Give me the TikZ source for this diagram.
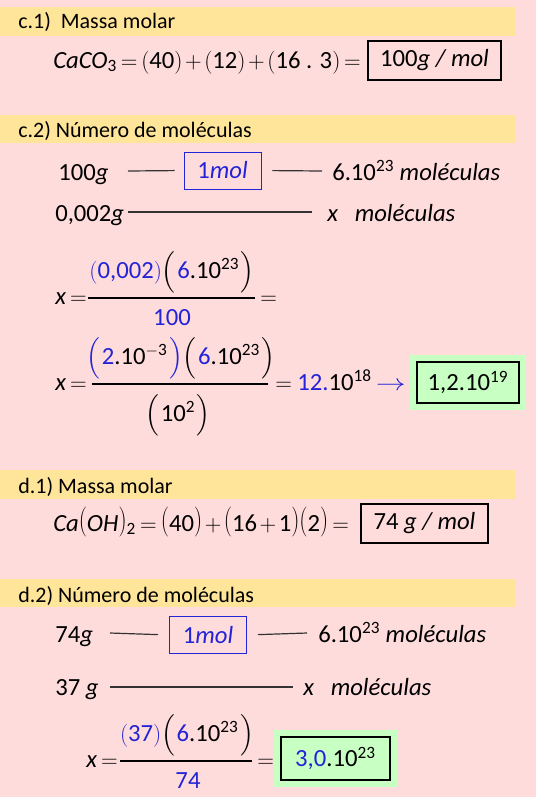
\documentclass[tikz,border=0pt]{standalone}
\usepackage{amsmath}
\usepackage{graphicx}
\usepackage{fontspec}
\setmainfont{Carlito}
\definecolor{fundo}{RGB}{255,220,220}
\definecolor{faixa}{RGB}{255,229,153}
\definecolor{azul}{RGB}{35,35,215}
\definecolor{verde}{RGB}{200,255,195}
% parenteses grandes (altura e profundidade)
\newcommand{\pa}[3][black]{\textcolor{#1}{$\left(\vrule height#2 depth#3 width0pt\right.$}}
\newcommand{\pf}[3][black]{\textcolor{#1}{$\left.\vrule height#2 depth#3 width0pt\right)$}}
% parenteses um pouco mais altos
\newcommand{\pp}[1]{\raisebox{1.5pt}{\scalebox{1}[1.3]{$#1$}}}

\begin{document}
\begin{tikzpicture}[x=0.75pt,y=-0.75pt,
  txt/.style={inner sep=0pt, anchor=base west, font=\fontsize{18.5}{22}\selectfont},
  titulo/.style={inner sep=0pt, anchor=base west, font=\fontsize{16.5}{20}\selectfont},
  caixa/.style={draw, line width=1.4pt, inner sep=0pt, font=\fontsize{18.5}{22}\selectfont},
  caixamol/.style={draw=azul, text=azul, line width=0.6pt, inner sep=0pt, minimum width=57.75pt, minimum height=27.75pt, font=\fontsize{18.5}{22}\selectfont},
  resposta/.style={draw, fill=verde, line width=0.9pt, inner sep=0pt, preaction={draw=verde, line width=10pt}, font=\fontsize{18.5}{22}\selectfont},
  traco/.style={line width=0.9pt, black!80},
  barra/.style={line width=0.9pt}]

% fundo e faixas dos titulos
\fill[fundo] (0,0) rectangle (536,797);
\useasboundingbox (0,0) rectangle (536,797);
\foreach \ya/\yb in {7/36,115/143,470/499,579/607}
  \fill[faixa] (0,\ya) rectangle (515,\yb);

% c.1) Massa molar
\node[titulo] (tc1) at (18,28) {c.1)\ \ Massa molar};
\node[txt] (mmc) at (53,68) {$\text{\textit{CaCO}}_{\text{3}}\,{=}\,(\text{40})\mskip2mu{+}\mskip2mu(\text{12})\mskip2mu{+}\mskip2mu(\text{16 . 3})\,{=}$};
\node[caixa, minimum width=99.75pt, minimum height=29.25pt] (rc1) at (434.5,60.5) {100\textit{g / mol}};

% c.2) Numero de moleculas
\node[titulo] (tc2) at (18,137) {c.2) Número de moléculas};
\node[txt] (g100) at (58,180) {100\textit{g}};
\node[caixamol] (mol1) at (222.5,170.5) {1\textit{mol}};
\coordinate (t1a) at (128,171);
\coordinate (t1b) at (322,171);
\draw[traco, shorten >=6.75pt] (t1a) -- (mol1.west);
\draw[traco, shorten <=8.25pt] (mol1.east) -- (t1b);
\node[txt] (mc1) at (332,180) {6.10\textsuperscript{23} \textit{moléculas}};

\node[txt] (g002) at (55,221) {0,002\textit{g}};
\coordinate (t2a) at (128,212);
\coordinate (t2b) at (312,212);
\draw[traco] (t2a) -- (t2b);
\node[txt] (xc1) at (327,221) {\textit{x}\ \ \ \textit{moléculas}};

% primeira fracao
\node[txt] (xa) at (55,304) {\textit{x}\,$=$};
\node[txt, anchor=base] (na) at (172,278) {\textcolor{azul}{$($0,002$)$}\pa{20pt}{11pt}\textcolor{azul}{6}.10\textsuperscript{23}\pf{20pt}{11pt}};
\draw[barra] (88,298) -- (255,298);
\node[txt, anchor=base] (da) at (172,325) {\textcolor{azul}{100}};
\node[txt] (ea) at (260,304) {$=$};

% segunda fracao
\node[txt] (xb) at (55,390) {\textit{x}\,$=$};
\node[txt, anchor=base] (nb) at (181,364) {\pa[azul]{20pt}{11pt}\textcolor{azul}{2}.10\textsuperscript{$-$3}\pf[azul]{20pt}{11pt}\pa{20pt}{11pt}\textcolor{azul}{6}.10\textsuperscript{23}\pf{20pt}{11pt}};
\draw[barra] (92,384) -- (268,384);
\node[txt, anchor=base] (db) at (178,421) {\pa{20pt}{11pt}10\textsuperscript{2}\pf{20pt}{11pt}};
\node[txt] (eb) at (275,390) {$=$\ \textcolor{azul}{12.}10\textsuperscript{18}\,\textcolor{azul}{\scalebox{1.3}[1]{$\rightarrow$}}};
\node[resposta, minimum width=76.5pt, minimum height=30.75pt] (rc2) at (468,382.5) {1,2.10\textsuperscript{19}};

% d.1) Massa molar
\node[titulo] (td1) at (18,493) {d.1) Massa molar};
\node[txt] (mmd) at (53,531) {\textit{Ca}\pp{(}\textit{OH}\pp{)}\textsubscript{2}\,$=$\,\pp{(}40\pp{)}$\mskip2mu+\mskip2mu$\pp{(}16$\mskip2mu+\mskip2mu$1\pp{)}\pp{(}2\pp{)}\,$=$};
\node[caixa, minimum width=95.25pt, minimum height=29.25pt] (rd1) at (424.5,523.5) {74 \textit{g / mol}};

% d.2) Numero de moleculas
\node[titulo] (td2) at (18,602) {d.2) Número de moléculas};
\node[txt] (g74) at (55,642) {74\textit{g}};
\node[caixamol] (mol2) at (208,635) {1\textit{mol}};
\coordinate (t3a) at (110,633);
\coordinate (t3b) at (307,633);
\draw[traco, shorten >=8.25pt] (t3a) -- (mol2.west);
\draw[traco, shorten <=8.25pt] (mol2.east) -- (t3b);
\node[txt] (md1) at (318,642) {6.10\textsuperscript{23} \textit{moléculas}};

\node[txt] (g37) at (55,695) {37 \textit{g}};
\coordinate (t4a) at (110,687);
\coordinate (t4b) at (293,687);
\draw[traco] (t4a) -- (t4b);
\node[txt] (xd1) at (303,695) {\textit{x}\ \ \ \textit{moléculas}};

% terceira fracao
\node[txt] (xc) at (86,767) {\textit{x}\,$=$};
\node[txt, anchor=base] (nc) at (187,741) {\textcolor{azul}{$($37$)$}\pa{20pt}{11pt}\textcolor{azul}{6}.10\textsuperscript{23}\pf{20pt}{11pt}};
\draw[barra] (120,761) -- (252,761);
\node[txt, anchor=base] (dc) at (188,788) {\textcolor{azul}{74}};
\node[txt] (ec) at (257,767) {$=$};
\node[resposta, minimum width=81.75pt, minimum height=32.25pt] (rd2) at (335.5,758.5) {\textcolor{azul}{3,0}.10\textsuperscript{23}};

\end{tikzpicture}
\end{document}
